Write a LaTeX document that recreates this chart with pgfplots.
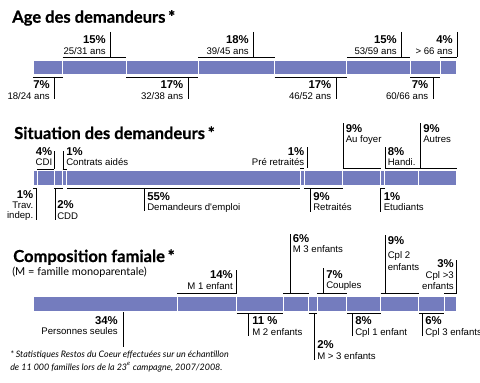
\documentclass[border=0pt]{standalone}
\usepackage{fontspec}
\setmainfont{Lato}
\newfontfamily\ttlfont{Lato}[BoldFeatures={FakeBold=0.6}]
\newfontfamily\arial{Liberation Sans}
\usepackage{pgfplots}
\pgfplotsset{compat=1.18}
\definecolor{barblue}{RGB}{116,124,190}
\newcommand{\px}[1]{#1/4.24-7.78302}
\newcommand{\tR}[4]{\node[#1,anchor=base east] at (axis cs:\px{#2},#3) {#4};}
\newcommand{\tL}[4]{\node[#1,anchor=base west] at (axis cs:\px{#2},#3) {#4};}
\newcommand{\hl}[3]{\draw[ln] (axis cs:#1,#3) -- (axis cs:#2,#3);}
\newcommand{\vl}[3]{\draw[ln] (axis cs:\px{#1},#2) -- (axis cs:\px{#1},#3);}
\pgfplotsset{
  base/.style={width=360pt,height=287.25pt,scale only axis,hide axis,clip=false,
    xmin=-7.783,xmax=105.425,ymin=0,ymax=383,y dir=reverse,
    xbar stacked,bar width=15},
  seg/.style={fill=barblue,draw=white,line width=0.8pt},
}
\begin{document}
\begin{tikzpicture}[
  ln/.style={black,line width=0.7pt},
  pct/.style={font={\fontsize{8.5}{10}\arial\bfseries},inner sep=0pt},
  lab/.style={font={\fontsize{7.2}{9}\arial},inner sep=0pt},
  ttl/.style={font={\fontsize{12.4}{14}\ttlfont\bfseries},inner sep=0pt}]
% ---------------- Age des demandeurs
\begin{axis}[base,name=ax1]
\addplot[seg] coordinates {(7,67.5)};
\addplot[seg] coordinates {(15,67.5)};
\addplot[seg] coordinates {(17,67.5)};
\addplot[seg] coordinates {(18,67.5)};
\addplot[seg] coordinates {(17,67.5)};
\addplot[seg] coordinates {(15,67.5)};
\addplot[seg] coordinates {(7,67.5)};
\addplot[seg] coordinates {(4,67.5)};
\tL{ttl}{12}{22.7}{Age des demandeurs\,*}
% top
\hl{7}{22}{57}\vl{110}{32}{57}
\tR{pct}{106}{43.5}{15\%}\tR{lab}{106}{55}{25/31 ans}
\hl{39}{57}{57}\vl{253}{32}{57}
\tR{pct}{249}{43.5}{18\%}\tR{lab}{249}{55}{39/45 ans}
\hl{74}{89}{57}\vl{401}{32}{57}
\tR{pct}{397}{43.5}{15\%}\tR{lab}{397}{55}{53/59 ans}
\hl{96}{100}{57}\vl{457}{32}{57}
\tR{pct}{453}{43.5}{4\%}\tR{lab}{453}{55}{> 66 ans}
% bottom
\hl{0}{7}{77}\vl{54}{77}{99.5}
\tR{pct}{50}{88.5}{7\%}\tR{lab}{50}{99}{18/24 ans}
\hl{22}{39}{77}\vl{188}{77}{99.5}
\tR{pct}{183.5}{88.5}{17\%}\tR{lab}{183.5}{99}{32/38 ans}
\hl{57}{74}{77}\vl{336}{77}{99.5}
\tR{pct}{331.5}{88.5}{17\%}\tR{lab}{331.5}{99}{46/52 ans}
\hl{89}{96}{77}\vl{433}{77}{99.5}
\tR{pct}{428.5}{88.5}{7\%}\tR{lab}{428.5}{99}{60/66 ans}
\end{axis}
% ---------------- Situation des demandeurs
\begin{axis}[base]
\addplot[seg] coordinates {(1,178)};
\addplot[seg] coordinates {(4,178)};
\addplot[seg] coordinates {(2,178)};
\addplot[seg] coordinates {(1,178)};
\addplot[seg] coordinates {(55,178)};
\addplot[seg] coordinates {(1,178)};
\addplot[seg] coordinates {(9,178)};
\addplot[seg] coordinates {(9,178)};
\addplot[seg] coordinates {(1,178)};
\addplot[seg] coordinates {(8,178)};
\addplot[seg] coordinates {(9,178)};
\tL{ttl}{14}{139}{Situation des demandeurs\,*}
\hl{0}{1}{188}\vl{36}{188}{220}
\tR{pct}{33.5}{198.5}{1\%}\tR{lab}{33.5}{208.5}{Trav.}\tR{lab}{33.5}{218}{indep.}
\hl{1}{5}{169}\vl{54}{151}{169}
\tR{pct}{52.5}{155}{4\%}\tR{lab}{52.5}{165}{CDI}
\hl{5}{7}{188}\vl{55}{188}{220}
\tL{pct}{57}{208}{2\%}\tL{lab}{57}{219.5}{CDD}
\hl{7}{8}{169}\vl{63}{151}{169}
\tL{pct}{66}{155}{1\%}\tL{lab}{66}{165}{Contrats aidés}
\hl{8}{63}{188}\vl{144}{188}{211}
\tL{pct}{147}{200}{55\%}\tL{lab}{147}{210}{Demandeurs d'emploi}
\hl{63}{64}{168}\vl{307}{147}{168}
\tR{pct}{304.5}{155}{1\%}\tR{lab}{304.5}{165}{Pré retraités}
\hl{64}{73}{188}\vl{310}{188}{212}
\tL{pct}{313}{200}{9\%}\tL{lab}{313}{210}{Retraités}
\hl{73}{82}{168}\vl{343}{123}{168}
\tL{pct}{345.5}{132}{9\%}\tL{lab}{345.5}{142}{Au foyer}
\hl{82}{83}{188}\vl{380}{188}{212}
\tL{pct}{383.5}{200}{1\%}\tL{lab}{383.5}{210}{Etudiants}
\hl{83}{91}{168}\vl{385}{147}{168}
\tL{pct}{387.5}{155}{8\%}\tL{lab}{387.5}{165}{Handi.}
\hl{91}{100}{168}\vl{420}{123}{168}
\tL{pct}{423}{132}{9\%}\tL{lab}{423}{142}{Autres}
\end{axis}
% ---------------- Composition familiale
\begin{axis}[base]
\addplot[seg] coordinates {(34,304)};
\addplot[seg] coordinates {(14,304)};
\addplot[seg] coordinates {(11,304)};
\addplot[seg] coordinates {(6,304)};
\addplot[seg] coordinates {(2,304)};
\addplot[seg] coordinates {(7,304)};
\addplot[seg] coordinates {(8,304)};
\addplot[seg] coordinates {(9,304)};
\addplot[seg] coordinates {(6,304)};
\addplot[seg] coordinates {(3,304)};
\tL{ttl}{13}{262}{Composition famiale\,*}
\tL{font={\fontsize{8.2}{10}\selectfont},inner sep=0pt}{12}{275}{(M = famille monoparentale)}
\vl{123}{312}{347}
\tR{pct}{118}{324}{34\%}\tR{lab}{118}{334.5}{Personnes seules}
\hl{34}{48}{293}\vl{236.5}{270}{293}
\tR{pct}{233}{278}{14\%}\tR{lab}{233}{289}{M 1 enfant}
\hl{48}{59}{313.5}\vl{248}{313.5}{336}
\tL{pct}{252}{324}{11 \%}\tL{lab}{252}{335}{M 2 enfants}
\hl{59}{65}{293}\vl{290}{234}{293}
\tL{pct}{292.5}{242}{6\%}\tL{lab}{292.5}{252}{M 3 enfants}
\hl{65}{67}{313.5}\vl{314}{313.5}{360}
\tL{pct}{317}{348}{2\%}\tL{lab}{317}{359}{M > 3 enfants}
\hl{67}{74}{293}\vl{323}{268}{293}
\tL{pct}{326}{278}{7\%}\tL{lab}{326}{288}{Couples}
\hl{74}{82}{313.5}\vl{352}{313.5}{336}
\tL{pct}{355}{324}{8\%}\tL{lab}{355}{335}{Cpl 1 enfant}
\hl{82}{91}{293}\vl{385}{235}{293}
\tL{pct}{387.5}{244}{9\%}\tL{lab}{387.5}{258}{Cpl 2}\tL{lab}{387.5}{270}{enfants}
\hl{91}{97}{313.5}\vl{422}{313.5}{336}
\tL{pct}{425}{324}{6\%}\tL{lab}{425}{335}{Cpl 3 enfants}
\hl{97}{100}{293}\vl{456.5}{260}{293}
\tR{pct}{454}{267}{3\%}\tR{lab}{454}{278}{Cpl >3}\tR{lab}{454}{289}{enfants}
\tL{font={\fontsize{6.7}{9}\selectfont\itshape},inner sep=0pt}{10}{357}{* Statistiques Restos du Coeur effectuées sur un échantillon}
\tL{font={\fontsize{6.7}{9}\selectfont\itshape},inner sep=0pt}{10}{370}{de 11 000 familles lors de la 23\textsuperscript{e} campagne, 2007/2008.}
\end{axis}
\pgfresetboundingbox
\path (ax1.south west) rectangle (ax1.north east);
\end{tikzpicture}
\end{document}
